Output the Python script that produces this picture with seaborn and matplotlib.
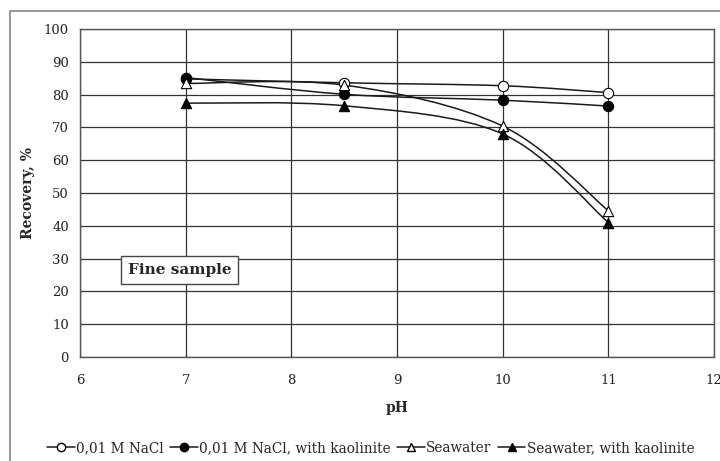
import numpy as np
import pandas as pd
import matplotlib
matplotlib.use("Agg")
import matplotlib.pyplot as plt
import seaborn as sns
from matplotlib.path import Path
from matplotlib.patches import PathPatch, Rectangle
from matplotlib.lines import Line2D

ph = [7, 8.5, 10, 11]
nacl = [84.8, 83.6, 82.7, 80.6]
nacl_kaol = [85.2, 80.1, 78.3, 76.5]
seawater = [83.4, 82.9, 70.4, 44.6]
seawater_kaol = [77.4, 76.6, 68.0, 41.0]
series_names = ["0,01 M NaCl", "0,01 M NaCl, with kaolinite", "Seawater", "Seawater, with kaolinite"]
x_ticks = [6, 7, 8, 9, 10, 11, 12]
y_ticks = [0, 10, 20, 30, 40, 50, 60, 70, 80, 90, 100]

df = pd.DataFrame({
    "pH": ph * 4,
    "Recovery": nacl + nacl_kaol + seawater + seawater_kaol,
    "Series": sum([[n] * len(ph) for n in series_names], []),
})

sns.set_theme(style="white")
plt.rcParams['font.family'] = ['DejaVu Serif', 'DejaVu Sans']

fig = plt.figure(figsize=(7.2, 4.61), dpi=100)
ax = fig.add_axes([80/720, 1 - 357/461, (714-80)/720, (357-29)/461])

styles = {
    "0,01 M NaCl": dict(marker="o", mfc="white"),
    "0,01 M NaCl, with kaolinite": dict(marker="o", mfc="black"),
    "Seawater": dict(marker="^", mfc="white"),
    "Seawater, with kaolinite": dict(marker="^", mfc="black"),
}

def smooth_path(xs, ys):
    pts = np.column_stack([xs, ys]).astype(float)
    n = len(pts)
    verts = [pts[0]]
    codes = [Path.MOVETO]
    for i in range(n - 1):
        p0 = pts[i - 1] if i > 0 else pts[i]
        p1 = pts[i]
        p2 = pts[i + 1]
        p3 = pts[i + 2] if i + 2 < n else pts[i + 1]
        c1 = p1 + (p2 - p0) / 6
        c2 = p2 - (p3 - p1) / 6
        verts += [c1, c2, p2]
        codes += [Path.CURVE4] * 3
    return Path(verts, codes)

for name in series_names:
    sub = df[df["Series"] == name]
    ax.add_patch(PathPatch(smooth_path(sub["pH"].values, sub["Recovery"].values),
                           fill=False, edgecolor="#1a1a1a", lw=1.1, zorder=3))

for name in series_names:
    sub = df[df["Series"] == name]
    st = styles[name]
    sns.scatterplot(data=sub, x="pH", y="Recovery", ax=ax, marker=st["marker"],
                    color=st["mfc"], edgecolor="black", linewidth=0.8, s=55,
                    zorder=4, legend=False)

ax.set_xlim(6, 12)
ax.set_ylim(0, 100)
ax.set_xticks(x_ticks)
ax.set_yticks(y_ticks)
ax.grid(True, color="#333333", lw=0.9)
ax.set_axisbelow(True)
for sp in ax.spines.values():
    sp.set_color("#555555")
    sp.set_linewidth(1)
ax.tick_params(axis="both", length=0, labelsize=9.5, colors="#222222", pad=8)
ax.tick_params(axis="x", pad=12)
ax.set_xlabel("pH", fontsize=10, fontweight="bold", labelpad=10)
ax.set_ylabel("Recovery, %", fontsize=10, fontweight="bold", labelpad=6)

ax.text(6.94, 26.5, "Fine sample", fontsize=11, fontweight="bold", ha="center", va="center",
        bbox=dict(boxstyle="square,pad=0.45", fc="white", ec="#444444", lw=1), zorder=5)

handles = [Line2D([], [], color="#1a1a1a", lw=1.1, marker=styles[n]["marker"],
                  mfc=styles[n]["mfc"], mec="black", ms=6) for n in series_names]
fig.legend(handles, series_names, loc="center", bbox_to_anchor=(0.515, 1 - 448/461),
           ncol=4, frameon=False, fontsize=9.8, handlelength=2.0, handletextpad=0.1,
           columnspacing=0.5)

fig.patches.append(Rectangle((10/720, -0.1), 1.2, 1 - 11/461 + 0.1, transform=fig.transFigure,
                             fill=False, ec="#888888", lw=1.2, zorder=0))

fig.savefig("out.png", dpi=100)
